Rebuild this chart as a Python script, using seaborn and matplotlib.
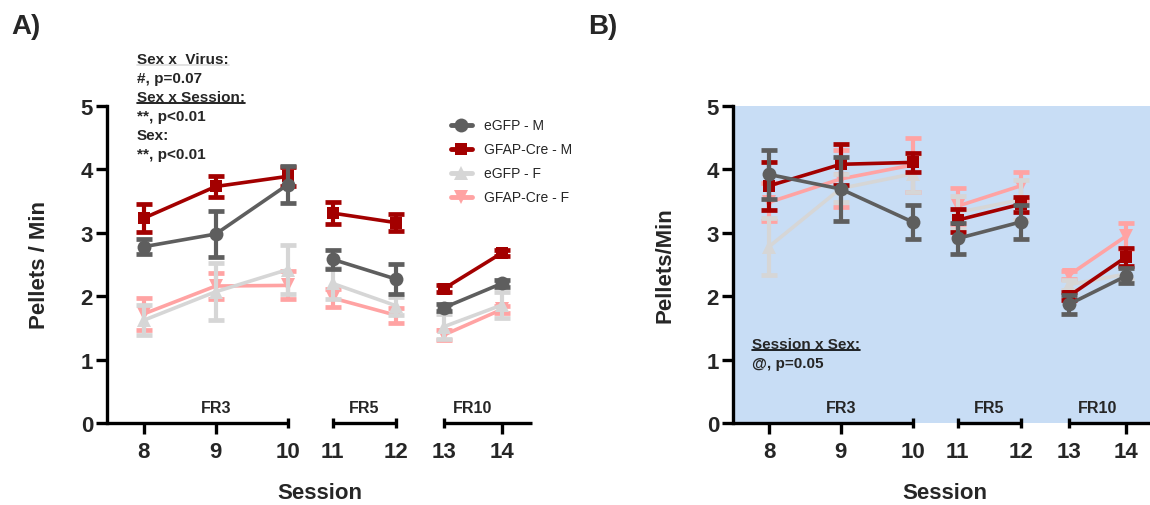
import numpy as np
import pandas as pd
import seaborn as sns
import matplotlib.pyplot as plt
from matplotlib.lines import Line2D

# ---- data ----
sessions = [8, 9, 10, 11, 12, 13, 14]
segment = [0, 0, 0, 1, 1, 2, 2]          # FR3, FR5, FR10 blocks
groups = ["eGFP - M", "GFAP-Cre - M", "eGFP - F", "GFAP-Cre - F"]

# Panel A
a_egfp_m = [2.78, 2.98, 3.76, 2.58, 2.27, 1.82, 2.20]
a_egfp_m_sem = [0.12, 0.36, 0.29, 0.15, 0.23, 0.06, 0.05]
a_cre_m = [3.23, 3.73, 3.89, 3.31, 3.16, 2.12, 2.68]
a_cre_m_sem = [0.22, 0.17, 0.15, 0.17, 0.13, 0.05, 0.05]
a_egfp_f = [1.62, 2.07, 2.42, 2.20, 1.85, 1.52, 1.86]
a_egfp_f_sem = [0.24, 0.45, 0.38, 0.24, 0.14, 0.20, 0.20]
a_cre_f = [1.72, 2.16, 2.17, 1.97, 1.70, 1.39, 1.79]
a_cre_f_sem = [0.25, 0.21, 0.22, 0.14, 0.12, 0.08, 0.05]

# Panel B
b_egfp_m = [3.92, 3.69, 3.17, 2.91, 3.17, 1.87, 2.32]
b_egfp_m_sem = [0.38, 0.50, 0.27, 0.24, 0.27, 0.15, 0.12]
b_cre_m = [3.74, 4.08, 4.11, 3.20, 3.45, 2.00, 2.62]
b_cre_m_sem = [0.38, 0.32, 0.15, 0.18, 0.12, 0.06, 0.14]
b_egfp_f = [2.78, 3.70, 3.93, 3.32, 3.52, 2.18, 2.35]
b_egfp_f_sem = [0.45, 0.22, 0.28, 0.26, 0.32, 0.08, 0.10]
b_cre_f = [3.48, 3.85, 4.07, 3.42, 3.74, 2.33, 2.95]
b_cre_f_sem = [0.30, 0.45, 0.42, 0.28, 0.22, 0.06, 0.20]

block_labels = ["FR3", "FR5", "FR10"]

# ---- layout / style ----
# broken (segmented) session axis, like the original
session_pos = [0, 1, 2, 2.625, 3.5, 4.17, 4.97]
colors = {"eGFP - M": "#5e5e5e", "GFAP-Cre - M": "#a30000",
          "eGFP - F": "#d6d6d6", "GFAP-Cre - F": "#ffa3a3"}
markers = {"eGFP - M": "o", "GFAP-Cre - M": "s", "eGFP - F": "^", "GFAP-Cre - F": "v"}
msizes = {"eGFP - M": 10, "GFAP-Cre - M": 8.5, "eGFP - F": 10, "GFAP-Cre - F": 10}
draw_order = ["GFAP-Cre - F", "eGFP - F", "GFAP-Cre - M", "eGFP - M"]


def make_frame(vals, sems):
    rows = []
    for g, v, s in zip(groups, vals, sems):
        for i, sess in enumerate(sessions):
            rows.append({"group": g, "session": sess, "pos": session_pos[i],
                         "seg": segment[i], "mean": v[i], "sem": s[i]})
    return pd.DataFrame(rows)


df_a = make_frame([a_egfp_m, a_cre_m, a_egfp_f, a_cre_f],
                  [a_egfp_m_sem, a_cre_m_sem, a_egfp_f_sem, a_cre_f_sem])
df_b = make_frame([b_egfp_m, b_cre_m, b_egfp_f, b_cre_f],
                  [b_egfp_m_sem, b_cre_m_sem, b_egfp_f_sem, b_cre_f_sem])

sns.set_theme(style="ticks")
plt.rcParams["font.family"] = ["Liberation Sans", "DejaVu Sans"]
plt.rcParams["font.weight"] = "bold"

fig = plt.figure(figsize=(11.5, 5.06), dpi=100)
ax_a = fig.add_axes([0.0930, 0.1621, 0.3696, 0.6265])
ax_b = fig.add_axes([0.6374, 0.1621, 0.3626, 0.6265])


def draw_panel(ax, df, xlim, ylabel, label_x):
    ax.set_xlim(*xlim)
    ax.set_ylim(0, 5)
    for z, g in enumerate(draw_order):
        sub = df[df["group"] == g]
        ax.errorbar(sub["pos"], sub["mean"], yerr=sub["sem"], fmt="none",
                    ecolor=colors[g], elinewidth=3.0, capsize=5.5, capthick=3.4,
                    zorder=3 + 2 * z)
        sns.lineplot(data=sub, x="pos", y="mean", units="seg", estimator=None,
                     color=colors[g], marker=markers[g], markersize=msizes[g],
                     markeredgewidth=0, linewidth=2.6, ax=ax, legend=False,
                     zorder=4 + 2 * z)

    sns.despine(ax=ax, bottom=True)
    ax.spines["left"].set_linewidth(2.4)
    ax.spines["left"].set_color("black")
    ax.set_yticks(range(6))
    ax.tick_params(axis="y", length=8, width=2.4, color="black", labelsize=16, pad=2)
    ax.set_xticks(session_pos, [str(s) for s in sessions])
    ax.tick_params(axis="x", length=0, labelsize=16, pad=13)
    for lab in ax.get_xticklabels() + ax.get_yticklabels():
        lab.set_fontweight("bold")

    # segmented session axis
    tr = ax.get_xaxis_transform()
    kw = dict(color="black", lw=2.4, transform=tr, clip_on=False,
              solid_capstyle="butt", zorder=20)
    ax.plot([xlim[0], session_pos[2]], [0, 0], **kw)
    ax.plot([session_pos[3], session_pos[4]], [0, 0], **kw)
    ax.plot([session_pos[5], xlim[1]], [0, 0], **kw)
    cap = 0.015
    tick = 0.035
    for i in (2, 3, 4, 5):
        ax.plot([session_pos[i]] * 2, [-cap, cap], **kw)
    for i in (0, 1, 6):
        ax.plot([session_pos[i]] * 2, [0, -tick], **kw)

    # schedule labels
    for k, name in enumerate(block_labels):
        xs = [p for p, s in zip(session_pos, segment) if s == k]
        xc = 1.0 if k == 0 else np.mean(xs)
        ax.text(xc, 0.05, name, transform=tr, ha="center", va="center",
                fontsize=11.5, fontweight="bold")

    ax.set_ylabel(ylabel, fontsize=16, fontweight="bold")
    ax.yaxis.set_label_coords(label_x, 0.5)
    ax.set_xlabel("Session", fontsize=16, fontweight="bold")
    ax.xaxis.set_label_coords(0.5, -0.185)


draw_panel(ax_a, df_a, (-0.51, 5.39), "Pellets / Min", -0.134)
draw_panel(ax_b, df_b, (-0.50, 5.30), "Pellets/Min", -0.137)
ax_b.set_facecolor("#c8ddf5")
ax_b.xaxis.set_label_coords(0.508, -0.185)

# legend (panel A)
handles = [Line2D([0], [0], color=colors[g], marker=markers[g], lw=3.5,
                  markersize=msizes[g], markeredgewidth=0) for g in groups]
leg = ax_a.legend(handles, groups, loc="upper left", bbox_to_anchor=(0.78, 1.0),
                  frameon=False, fontsize=10, handlelength=1.5, labelspacing=0.72,
                  handletextpad=0.9)
for t in leg.get_texts():
    t.set_fontweight("normal")

# panel letters
fig.text(0.010, 1 - 27 / 506, "A)", fontsize=20, fontweight="bold", va="center")
fig.text(0.511, 1 - 27 / 506, "B)", fontsize=20, fontweight="bold", va="center")

# stats annotations (x, y in pixels of the reference)
W, H = 1150, 506
notes = [
    (137, 60, "Sex x  Virus:", "faint"),
    (137, 79, "#, p=0.07", None),
    (137, 98, "Sex x Session:", "under"),
    (137, 117, "**, p<0.01", None),
    (137, 136, "Sex:", None),
    (137, 155, "**, p<0.01", None),
    (752, 345, "Session x Sex:", "under"),
    (752, 364, "@, p=0.05", None),
]
txts = []
for x, y, s, u in notes:
    t = fig.text(x / W, 1 - y / H, s, fontsize=11, fontweight="bold", va="center",
                 zorder=30)
    txts.append((t, u))

fig.canvas.draw()
r = fig.canvas.get_renderer()
for t, u in txts:
    if u is None:
        continue
    bb = t.get_window_extent(r)
    yl = (bb.y0 + 1) / H
    fig.add_artist(Line2D([bb.x0 / W, bb.x1 / W], [yl, yl], transform=fig.transFigure,
                          color="black" if u == "under" else "#dddddd", lw=1.2,
                          zorder=30))

fig.savefig("out.png", dpi=100)
